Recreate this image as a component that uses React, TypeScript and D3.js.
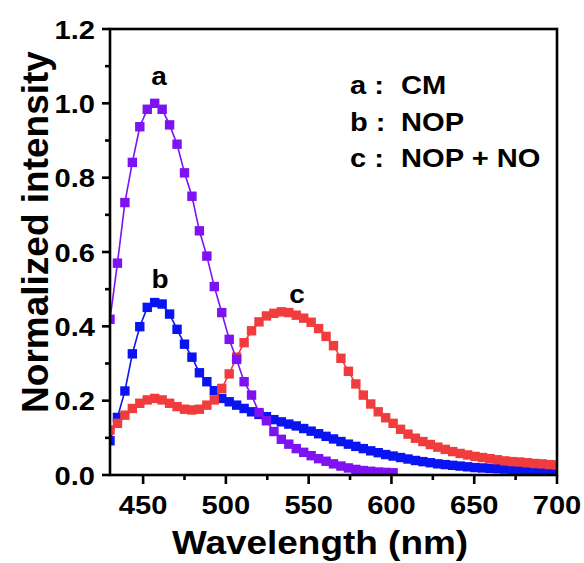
import React from "react";
import * as d3 from "d3";

// Emission wavelengths (nm), sampled every 4.5 nm from 430 to 700
const wavelengths = [
  430, 434.5, 439, 443.5, 448, 452.5, 457, 461.5, 466, 470.5, 475, 479.5, 484, 488.5, 493, 497.5,
  502, 506.5, 511, 515.5, 520, 524.5, 529, 533.5, 538, 542.5, 547, 551.5, 556, 560.5, 565, 569.5,
  574, 578.5, 583, 587.5, 592, 596.5, 601, 605.5, 610, 614.5, 619, 623.5, 628, 632.5, 637, 641.5,
  646, 650.5, 655, 659.5, 664, 668.5, 673, 677.5, 682, 686.5, 691, 695.5, 700,
];

// a : CM (recorded up to ~600 nm)
const intensityCM = [
  0.419, 0.57, 0.733, 0.841, 0.937, 0.984, 1.0, 0.984, 0.942, 0.89, 0.813, 0.75, 0.657, 0.589, 0.507,
  0.437, 0.365, 0.311, 0.251, 0.215, 0.168, 0.146, 0.117, 0.096, 0.083, 0.071, 0.061, 0.052, 0.044,
  0.037, 0.03, 0.024, 0.019, 0.015, 0.012, 0.01, 0.008, 0.007, 0.006,
];

// b : NOP
const intensityNOP = [
  0.092, 0.155, 0.226, 0.326, 0.399, 0.451, 0.464, 0.46, 0.433, 0.392, 0.352, 0.317, 0.275, 0.251,
  0.227, 0.206, 0.197, 0.188, 0.179, 0.17, 0.163, 0.157, 0.149, 0.143, 0.137, 0.132, 0.125, 0.118,
  0.111, 0.104, 0.097, 0.09, 0.083, 0.077, 0.071, 0.065, 0.06, 0.055, 0.051, 0.047, 0.043, 0.039,
  0.036, 0.033, 0.03, 0.028, 0.026, 0.024, 0.022, 0.02, 0.019, 0.018, 0.017, 0.016, 0.015, 0.014,
  0.013, 0.012, 0.011, 0.011, 0.01,
];

// c : NOP + NO
const intensityNOPNO = [
  0.121, 0.139, 0.161, 0.179, 0.193, 0.202, 0.206, 0.202, 0.193, 0.184, 0.177, 0.175, 0.177, 0.188,
  0.202, 0.233, 0.272, 0.317, 0.356, 0.388, 0.412, 0.428, 0.435, 0.439, 0.437, 0.43, 0.422, 0.411,
  0.394, 0.373, 0.348, 0.314, 0.279, 0.245, 0.215, 0.191, 0.17, 0.154, 0.139, 0.123, 0.11, 0.099,
  0.09, 0.082, 0.075, 0.069, 0.063, 0.058, 0.054, 0.05, 0.047, 0.044, 0.041, 0.038, 0.036, 0.035,
  0.033, 0.031, 0.03, 0.028, 0.027,
];

const xTickValues = [450, 500, 550, 600, 650, 700];
const xMinorTickValues = [475, 525, 575, 625, 675];
const yTickValues = [0.0, 0.2, 0.4, 0.6, 0.8, 1.0, 1.2];
const yMinorTickValues = [0.1, 0.3, 0.5, 0.7, 0.9, 1.1];

const legendKeys = ["a :", "b :", "c :"];
const legendNames = ["CM", "NOP", "NOP + NO"];

// drawing order: b under c, a on top
const series = [
  { key: "b", values: intensityNOP, color: "#0a14f0", label: "b", lx: 160, ly: 288 },
  { key: "c", values: intensityNOPNO, color: "#f03c3c", label: "c", lx: 297, ly: 303 },
  { key: "a", values: intensityCM, color: "#7d12f2", label: "a", lx: 159, ly: 85 },
];

const W = 584;
const H = 563;
const left = 110;
const right = 557;
const top = 29;
const bottom = 475;
const FONT = "'Liberation Sans', Arial, sans-serif";
const SX = 1.12; // horizontal stretch applied to text

export default function App() {
  const x = d3.scaleLinear().domain([430, 700]).range([left, right]);
  const y = d3.scaleLinear().domain([0, 1.2]).range([bottom, top]);
  const line = d3
    .line<[number, number]>()
    .x((d) => x(d[0]))
    .y((d) => y(d[1]));
  const ms = 9.4;

  return (
    <svg
      width={W}
      height={H}
      style={{ position: "absolute", left: 0, top: 0, background: "#fff" }}
      fontFamily={FONT}
      fontWeight="bold"
    >
      <defs>
        <clipPath id="plotArea">
          <rect x={left} y={top} width={right - left} height={bottom - top} />
        </clipPath>
      </defs>

      <g clipPath="url(#plotArea)">
        {series.map((s) => {
          const pts: [number, number][] = s.values.map((v, i) => [wavelengths[i], v]);
          return (
            <g key={s.key}>
              <path d={line(pts) || ""} fill="none" stroke={s.color} strokeWidth={1.6} />
              {pts.map((p, i) => (
                <rect
                  key={i}
                  x={x(p[0]) - ms / 2}
                  y={y(p[1]) - ms / 2}
                  width={ms}
                  height={ms}
                  fill={s.color}
                />
              ))}
            </g>
          );
        })}
      </g>

      {/* frame */}
      <rect
        x={left}
        y={top}
        width={right - left}
        height={bottom - top}
        fill="none"
        stroke="#000"
        strokeWidth={2.6}
      />

      {/* x ticks */}
      {xTickValues.map((t) => (
        <g key={"xt" + t}>
          <line x1={x(t)} x2={x(t)} y1={bottom} y2={bottom + 9} stroke="#000" strokeWidth={2.6} />
          <text
            transform={`translate(${x(t)},${514}) scale(${SX},1)`}
            textAnchor="middle"
            fontSize={26}
            fill="#000"
          >
            {t}
          </text>
        </g>
      ))}
      {xMinorTickValues.map((t) => (
        <line key={"xm" + t} x1={x(t)} x2={x(t)} y1={bottom} y2={bottom + 5} stroke="#000" strokeWidth={2.6} />
      ))}

      {/* y ticks */}
      {yTickValues.map((t) => (
        <g key={"yt" + t}>
          <line x1={left - 8} x2={left} y1={y(t)} y2={y(t)} stroke="#000" strokeWidth={2.6} />
          <text
            transform={`translate(${95},${y(t) + 9.5}) scale(${SX},1)`}
            textAnchor="end"
            fontSize={26}
            fill="#000"
          >
            {d3.format(".1f")(t)}
          </text>
        </g>
      ))}
      {yMinorTickValues.map((t) => (
        <line key={"ym" + t} x1={left - 5} x2={left} y1={y(t)} y2={y(t)} stroke="#000" strokeWidth={2.6} />
      ))}

      {/* axis titles */}
      <text
        transform={`translate(${320},${554}) scale(${SX},1)`}
        textAnchor="middle"
        fontSize={33}
        fill="#000"
      >
        Wavelength (nm)
      </text>
      <text
        transform={`translate(${48},${232}) rotate(-90)`}
        textAnchor="middle"
        fontSize={37}
        fill="#000"
      >
        Normalized intensity
      </text>

      {/* curve labels */}
      {series.map((s) => (
        <text
          key={"lab" + s.key}
          transform={`translate(${s.lx},${s.ly}) scale(${SX},1)`}
          textAnchor="middle"
          fontSize={25}
          fill="#000"
        >
          {s.label}
        </text>
      ))}

      {/* legend */}
      {legendKeys.map((k, i) => (
        <g key={"lg" + i}>
          <text
            transform={`translate(${350},${94 + i * 36.5}) scale(${SX},1)`}
            fontSize={26}
            fill="#000"
          >
            {k}
          </text>
          <text
            transform={`translate(${401},${94 + i * 36.5}) scale(${SX},1)`}
            fontSize={26}
            fill="#000"
          >
            {legendNames[i]}
          </text>
        </g>
      ))}
    </svg>
  );
}
